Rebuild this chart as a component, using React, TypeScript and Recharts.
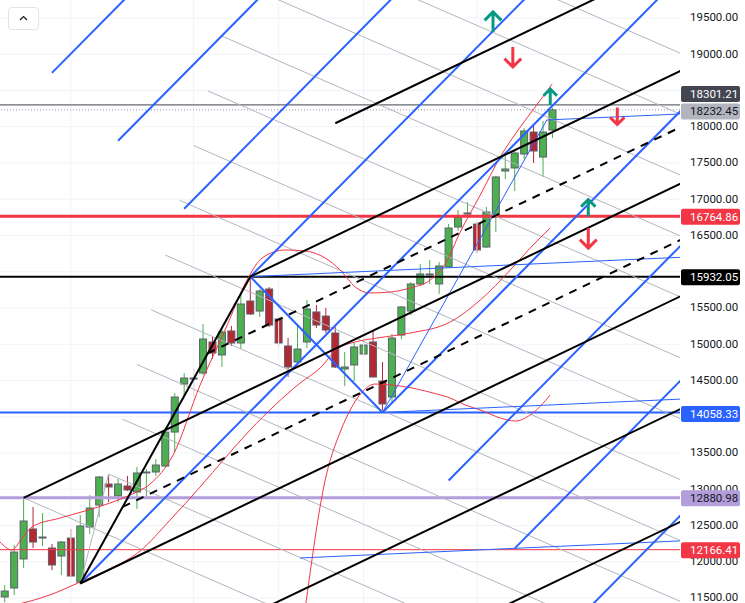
import React from "react";
import {
  ComposedChart,
  Bar,
  Line,
  XAxis,
  YAxis,
  CartesianGrid,
  ReferenceLine,
  ReferenceDot,
} from "recharts";

// weekly candles
const opens = [11514, 11638, 12038, 12452, 12334, 12189, 12079, 12327, 11720, 12479, 12782, 13072, 12907, 13045, 12962, 13224, 13238, 13320, 13789, 14451, 14534, 14603, 15031, 14852, 15183, 15017, 15596, 15458, 15762, 15348, 14976, 14755, 15031, 15445, 15389, 15155, 14658, 14714, 14865, 15031, 14493, 14272, 15127, 15458, 15831, 15955, 15831, 16065, 16617, 16796, 16658, 16341, 16755, 17389, 17431, 17624, 17927, 17582, 17955];
const highs = [11679, 12231, 12880.98, 12755, 12672, 12245, 12286, 12451, 12645, 12920, 13183, 13210, 13141, 13183, 13307, 13279, 13417, 13858, 14327, 14603, 14658, 15279, 15100, 15238, 15252, 15707, 15932.05, 15762, 15789, 15389, 15086, 15252, 15610, 15541, 15500, 15238, 14893, 15031, 15320, 15183, 14755, 15141, 15527, 15858, 16107, 16162, 16134, 16658, 16851, 16962, 16686, 16893, 17320, 17610, 17679, 17983, 18038, 18079, 18260];
const lows = [11440, 11541, 11914, 12189, 12217, 11886, 11817, 11789, 11700, 12382, 12617, 12824, 12824, 12976, 12727, 12893, 13183, 13307, 13514, 14300, 14272, 14576, 14796, 14686, 14976, 14934, 15403, 15376, 15238, 14962, 14548, 14741, 14948, 15224, 15155, 14672, 14424, 14493, 14824, 14544, 14058.33, 14189, 15072, 15403, 15803, 15831, 15693, 16052, 16562, 16755, 16258, 16327, 16548, 17279, 17114, 17555, 17500, 17307, 17845];
const closes = [11596, 12134, 12562, 12272, 12341, 11955, 12272, 11803, 12493, 12741, 13169, 13031, 13072, 12990, 13224, 13238, 13334, 13789, 14272, 14534, 14520, 15072, 14879, 15169, 15017, 15555, 15417, 15734, 15265, 15017, 14686, 14934, 15486, 15265, 15196, 14686, 14686, 14962, 14989, 14548, 14176, 15086, 15514, 15831, 15969, 15969, 16079, 16603, 16755, 16810, 16300, 16824, 17307, 17417, 17638, 17941, 17665, 17927, 18232.45];

// bollinger bands, [bar, price]
const upperBand = [[-0.5, 12272], [0.77, 12162], [1.83, 12327], [2.89, 12479], [5.86, 12603], [8.5, 12700], [11.15, 12810], [13.27, 12920], [15.39, 13072], [17.83, 13472], [20.69, 14438], [23.33, 15196], [25.77, 15914], [27.25, 16189], [29.69, 16300], [31.81, 16286], [33.93, 16189], [35.52, 16024], [37.11, 15789], [38.69, 15707], [40.81, 15720], [42.93, 15776], [45.05, 15886], [46.64, 16107], [48.23, 16548], [50.35, 17058], [52.47, 17583], [54.59, 17996], [56.17, 18272], [57.97, 18589]];
const basisBand = [[-0.5, 11362], [2.36, 11445], [5.33, 11569], [7.97, 11720], [11.15, 11900], [14.33, 12148], [17.51, 12576], [20.69, 13031], [23.33, 13431], [25.98, 13817], [28.63, 14162], [31.28, 14465], [33.4, 14672], [35.2, 14934], [37.11, 15031], [39.44, 15086], [42.93, 15155], [47.17, 15307], [50.35, 15610], [53.53, 16024], [55.64, 16327], [57.76, 16603]];
const lowerBand = [[31.8, 11334], [33.93, 13127], [35.52, 13789], [36.58, 14093], [37.85, 14341], [39.23, 14451], [41.87, 14424], [45.37, 14327], [47.17, 14258], [48.76, 14162], [50.35, 14093], [52.47, 13983], [54.06, 13941], [55.64, 14024], [57.76, 14300]];

// pitchfork pivots [bar, price]
const pivotA = [2, 12880.98];
const pivotB = [8, 11700];
const pivotC = [26, 15932.05];
const pivotD = [40, 14058.33];
const pivotE = [11, 13210];

const blackSolidLevels = [0, 1, -1, 2, -2, -3];
const blackDashLevels = [0.5, -0.5];
const blueLevels = [0, 1, -1, 2, -2, 3, -3, 4, -4];
const grayLevels = [0, 1, 2, 3, 4, 5, 6, 7, 8, 9, 10, 11, 12, 13];

// thin near-flat channel lines
const thinStarts = [[26, 15932.05], [40, 14058.33], [31.3, 12052], [57.4, 18093]];
const thinSlope = 5.86;
const thinSteep = [[40, 14058.33], [57.4, 18093]];

const levelValues = [18301.21, 18232.45, 16764.86, 15932.05, 14058.33, 12880.98, 12166.41];
// 18500, 16000 and 14000 sit under the price labels, so they are left out
const priceTicks = [11500, 12000, 12500, 13000, 13500, 14500, 15000, 15500, 16500, 17000, 17500, 18000, 19000, 19500];
const gridValues = [11500, 12000, 12500, 13000, 13500, 14000, 14500, 15000, 15500, 16000, 16500, 17000, 17500, 18000, 18500, 19000, 19500];
const gridBars = [7, 20, 29, 38, 50];

const arrowMarks = [
  { i: 51.7, p: 19445, up: true },
  { i: 53.8, p: 18962, up: false },
  { i: 57.76, p: 18410, up: true },
  { i: 64.86, p: 18148, up: false },
  { i: 61.79, p: 16879, up: true },
  { i: 61.79, p: 16465, up: false },
];
const arrowSizes = [20, 20, 16, 17, 17, 20];

const levelStyles = [
  { stroke: "#434651", width: 1, dash: undefined, box: "#434651", text: "#ffffff", shift: -11 },
  { stroke: "#9598a1", width: 1, dash: "1 2", box: "#b2b5be", text: "#131722", shift: 1.5 },
  { stroke: "#f23645", width: 3, dash: undefined, box: "#f23645", text: "#ffffff", shift: 0.5 },
  { stroke: "#000000", width: 2, dash: undefined, box: "#000000", text: "#ffffff", shift: 0.5 },
  { stroke: "#2962ff", width: 2, dash: undefined, box: "#2962ff", text: "#ffffff", shift: 1.5 },
  { stroke: "#b39ddb", width: 3, dash: undefined, box: "#b39ddb", text: "#131722", shift: 0.5 },
  { stroke: "#f23645", width: 1, dash: undefined, box: "#f23645", text: "#ffffff", shift: 0.5 },
];

const GREEN = "#4caf50";
const RED = "#b22833";
const BORDER = "#5d606b";
const BLUE = "#2962ff";
const GRAY = "#b2b5be";
const X_END = 80;

const candles = opens.map((o, i) => ({
  i,
  o,
  h: highs[i],
  l: lows[i],
  c: closes[i],
  range: [lows[i], highs[i]],
}));

const toPts = (arr: number[][]) => arr.map(([i, p]) => ({ i, p }));

// Andrews pitchfork: level k runs parallel to the median through M + k*(p2 - M)
function forkSegments(p0: number[], p1: number[], p2: number[], levels: number[]) {
  const m = [(p1[0] + p2[0]) / 2, (p1[1] + p2[1]) / 2];
  const slope = (m[1] - p0[1]) / (m[0] - p0[0]);
  return levels.map((k) => {
    const sx = k === 0 ? p0[0] : m[0] + k * (p2[0] - m[0]);
    const sy = k === 0 ? p0[1] : m[1] + k * (p2[1] - m[1]);
    return [
      { x: sx, y: sy },
      { x: X_END, y: sy + slope * (X_END - sx) },
    ];
  });
}

const blackSolid = forkSegments(pivotA, pivotB, pivotC, blackSolidLevels);
const blackDash = forkSegments(pivotA, pivotB, pivotC, blackDashLevels);
const blueFork = forkSegments(pivotB, pivotD, pivotC, blueLevels);
const grayFork = forkSegments(pivotA, pivotB, pivotE, grayLevels);
const thinLines = thinStarts.map(([i, p]) => [
  { x: i, y: p },
  { x: X_END, y: p + thinSlope * (X_END - i) },
]);

const seg = (a: number[], b: number[]) => [
  { x: a[0], y: a[1] },
  { x: b[0], y: b[1] },
];

function Candle(props: any) {
  const { x, y, width, height, payload } = props;
  if (!payload || height == null) return null;
  const { o, h, l, c } = payload;
  const cx = x + width / 2;
  const k = height / (h - l);
  const yO = y + (h - o) * k;
  const yC = y + (h - c) * k;
  const up = c >= o;
  const top = Math.min(yO, yC);
  const bh = Math.max(1, Math.abs(yO - yC));
  return (
    <g>
      <line x1={cx} x2={cx} y1={y} y2={y + height} stroke={up ? GREEN : RED} strokeWidth={1} />
      <rect x={cx - 3.5} y={top} width={7} height={bh} fill={up ? GREEN : RED} stroke={BORDER} strokeWidth={1} />
    </g>
  );
}

function PriceTick(props: any) {
  const { x, y, payload } = props;
  const v = payload.value;
  const idx = levelValues.indexOf(v);
  const label = Number(v).toFixed(2);
  const font = { fontSize: 11.5, fontFamily: "Roboto, 'Liberation Sans', sans-serif" };
  if (idx < 0) {
    return (
      <text x={x} y={y} dy={3.5} fill="#131722" {...font}>
        {label}
      </text>
    );
  }
  const st = levelStyles[idx];
  const cy = y + st.shift;
  return (
    <g>
      <rect x={x - 9} y={cy - 8} width={59} height={16} rx={2} fill={st.box} />
      <text x={x} y={cy} dy={4} fill={st.text} {...font}>
        {label}
      </text>
    </g>
  );
}

function ArrowMark({ cx, cy, up, size }: any) {
  const h = size / 2;
  const w = size * 0.42;
  const color = up ? "#089981" : "#f23645";
  const d = up
    ? `M${cx - w},${cy - h + w} L${cx},${cy - h} L${cx + w},${cy - h + w} M${cx},${cy - h + 1} L${cx},${cy + h}`
    : `M${cx - w},${cy + h - w} L${cx},${cy + h} L${cx + w},${cy + h - w} M${cx},${cy + h - 1} L${cx},${cy - h}`;
  return <path d={d} stroke={color} strokeWidth={3} fill="none" strokeLinejoin="miter" />;
}

export default function App() {
  return (
    <div style={{ position: "relative", width: 745, height: 603, background: "#fff" }}>
      <style>{"body{margin:0;}"}</style>
      <ComposedChart width={745} height={603} data={candles} margin={{ top: 0, right: 0, bottom: 0, left: 0 }}>
        <CartesianGrid vertical={false} horizontalValues={gridValues} stroke="#f0f3fa" />
        <XAxis type="number" dataKey="i" domain={[-0.5, 71.5]} hide allowDataOverflow />
        <YAxis
          orientation="right"
          width={65}
          domain={[11431, 19748]}
          allowDataOverflow
          ticks={[...priceTicks, ...levelValues.slice().reverse()]}
          interval={0}
          tick={<PriceTick />}
          axisLine={false}
          tickLine={false}
          tickSize={0}
          tickMargin={10}
        />
        {gridBars.map((b) => (
          <ReferenceLine key={`g${b}`} x={b} stroke="#f0f3fa" />
        ))}
        {levelValues.map((v, k) => (
          <ReferenceLine
            key={`lv${v}`}
            y={v}
            stroke={levelStyles[k].stroke}
            strokeWidth={levelStyles[k].width}
            strokeDasharray={levelStyles[k].dash}
          />
        ))}
        {grayFork.map((s, k) => (
          <ReferenceLine key={`gf${k}`} segment={s} stroke={GRAY} strokeWidth={1} ifOverflow="hidden" />
        ))}
        <ReferenceLine segment={seg(pivotB, pivotE)} stroke={GRAY} strokeWidth={1} ifOverflow="hidden" />
        <Bar dataKey="range" barSize={7} shape={<Candle />} isAnimationActive={false} />
        <Line data={toPts(upperBand)} dataKey="p" type="monotone" stroke="#f23645" strokeWidth={1} dot={false} activeDot={false} isAnimationActive={false} />
        <Line data={toPts(basisBand)} dataKey="p" type="monotone" stroke="#f23645" strokeWidth={1} dot={false} activeDot={false} isAnimationActive={false} />
        <Line data={toPts(lowerBand)} dataKey="p" type="monotone" stroke="#f23645" strokeWidth={1} dot={false} activeDot={false} isAnimationActive={false} />
        {thinLines.map((s, k) => (
          <ReferenceLine key={`tl${k}`} segment={s} stroke={BLUE} strokeWidth={1} ifOverflow="hidden" />
        ))}
        <ReferenceLine segment={seg(thinSteep[0], thinSteep[1])} stroke={BLUE} strokeWidth={1} ifOverflow="hidden" />
        {blueFork.map((s, k) => (
          <ReferenceLine key={`bf${k}`} segment={s} stroke={BLUE} strokeWidth={2} ifOverflow="hidden" />
        ))}
        <ReferenceLine segment={seg(pivotC, pivotD)} stroke={BLUE} strokeWidth={2} ifOverflow="hidden" />
        {blackSolid.map((s, k) => (
          <ReferenceLine key={`ks${k}`} segment={s} stroke="#000" strokeWidth={2} ifOverflow="hidden" />
        ))}
        {blackDash.map((s, k) => (
          <ReferenceLine key={`kd${k}`} segment={s} stroke="#000" strokeWidth={2} strokeDasharray="8 7" ifOverflow="hidden" />
        ))}
        <ReferenceLine segment={seg(pivotB, pivotC)} stroke="#000" strokeWidth={2} ifOverflow="hidden" />
        {arrowMarks.map((a, k) => (
          <ReferenceDot
            key={`ar${k}`}
            x={a.i}
            y={a.p}
            r={1}
            shape={(p: any) => <ArrowMark cx={p.cx} cy={p.cy} up={a.up} size={arrowSizes[k]} />}
          />
        ))}
      </ComposedChart>
      <div
        style={{
          position: "absolute",
          left: 8,
          top: 7,
          width: 31,
          height: 23,
          border: "1px solid #e0e3eb",
          borderRadius: 4,
          background: "#fff",
          boxSizing: "border-box",
        }}
      >
        <svg width={29} height={21} style={{ display: "block" }}>
          <path d="M11 12 L14.5 8.5 L18 12" stroke="#131722" strokeWidth={1.2} fill="none" />
        </svg>
      </div>
    </div>
  );
}
